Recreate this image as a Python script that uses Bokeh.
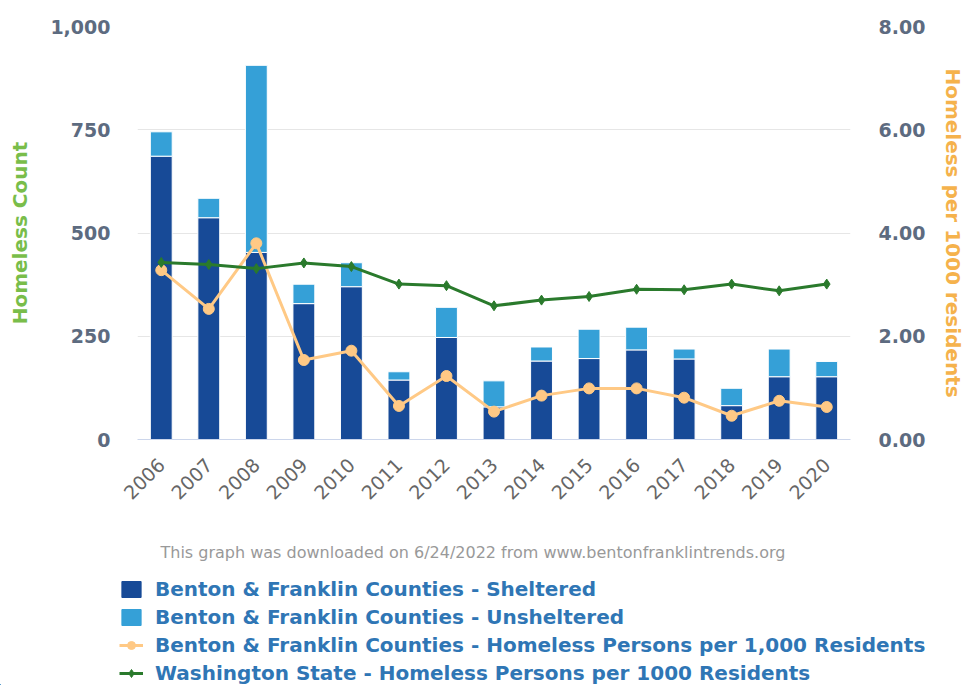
import math
from bokeh.plotting import figure
from bokeh.layouts import column
from bokeh.models import (FactorRange, Range1d, LinearAxis, Legend, LegendItem, Label,
                          NumeralTickFormatter, FixedTicker, ColumnDataSource)
from bokeh.embed import file_html
from bokeh.resources import INLINE

years = [str(y) for y in range(2006, 2021)]
sheltered = [686, 537, 453, 329, 370, 144, 247, 79, 190, 196, 217, 195, 82, 152, 152]
unsheltered = [59, 47, 453, 47, 58, 20, 73, 63, 34, 71, 55, 24, 42, 67, 37]
bf_rate = [3.28, 2.53, 3.80, 1.54, 1.72, 0.65, 1.23, 0.54, 0.85, 0.99, 0.99, 0.81, 0.46, 0.75, 0.63]
wa_rate = [3.43, 3.39, 3.31, 3.42, 3.35, 3.01, 2.98, 2.59, 2.70, 2.77, 2.91, 2.90, 3.01, 2.88, 3.01]

legend_labels = [
    "Benton & Franklin Counties - Sheltered",
    "Benton & Franklin Counties - Unsheltered",
    "Benton & Franklin Counties - Homeless Persons per 1,000 Residents",
    "Washington State - Homeless Persons per 1000 Residents",
]
footnote = "This graph was downloaded on 6/24/2022 from www.bentonfranklintrends.org"

C_SH = "#174a97"
C_UN = "#35a0d7"
C_OR = "#ffc985"
C_GR = "#2a7a2c"
TICK_C = "#5d6b80"
W = 949

source = ColumnDataSource(dict(years=years, sheltered=sheltered, unsheltered=unsheltered,
                               bf=bf_rate, wa=wa_rate))

p = figure(x_range=FactorRange(*years, range_padding=0), y_range=Range1d(0, 1000),
           frame_width=713, frame_height=413,
           min_border_left=137, min_border_right=105, min_border_top=26, min_border_bottom=100,
           output_backend="svg", toolbar_location=None)
p.frame_align = False
p.extra_y_ranges = {"rate": Range1d(0, 8)}

bars = p.vbar_stack(["sheltered", "unsheltered"], x="years", width=0.46, color=[C_SH, C_UN],
                    line_color="white", line_width=1, source=source)

p.line("years", "bf", y_range_name="rate", color=C_OR, line_width=3, source=source)
p.scatter("years", "bf", y_range_name="rate", color=C_OR, size=11, marker="circle", source=source)
p.line("years", "wa", y_range_name="rate", color=C_GR, line_width=3, source=source)
p.scatter("years", "wa", y_range_name="rate", color=C_GR, size=10, marker="diamond", source=source)

# left axis
ly = p.yaxis[0]
ly.ticker = FixedTicker(ticks=[0, 250, 500, 750, 1000])
ly.formatter = NumeralTickFormatter(format="0,0")
ly.axis_label = "Homeless Count"
ly.axis_label_text_color = "#79bd4a"
ly.axis_label_text_font = "DejaVu Sans"
ly.axis_label_text_font_style = "bold"
ly.axis_label_text_font_size = "20px"
ly.axis_label_standoff = 15
ly.major_label_text_color = TICK_C
ly.major_label_text_font = "DejaVu Sans"
ly.major_label_text_font_style = "bold"
ly.major_label_text_font_size = "19px"
ly.major_label_standoff = 27
ly.major_tick_out = 0
ly.major_tick_in = 0
ly.axis_line_color = None
ly.major_tick_line_color = None
ly.minor_tick_line_color = None

# right axis
ry = LinearAxis(y_range_name="rate", ticker=FixedTicker(ticks=[0, 2, 4, 6, 8]),
                formatter=NumeralTickFormatter(format="0.00"),
                axis_label="Homeless per 1000 residents")
ry.axis_label_text_color = "#f5b24c"
ry.axis_label_text_font = "DejaVu Sans"
ry.axis_label_text_font_style = "bold"
ry.axis_label_text_font_size = "20px"
ry.axis_label_standoff = 13
ry.major_label_text_color = TICK_C
ry.major_label_text_font = "DejaVu Sans"
ry.major_label_text_font_style = "bold"
ry.major_label_text_font_size = "19px"
ry.major_label_standoff = 28
ry.major_tick_out = 0
ry.major_tick_in = 0
ry.axis_line_color = None
ry.major_tick_line_color = None
ry.minor_tick_line_color = None
p.add_layout(ry, "right")

p.xaxis.major_label_orientation = math.pi / 4
p.xaxis.major_label_text_color = "#666666"
p.xaxis.major_label_text_font = "DejaVu Sans"
p.xaxis.major_label_text_font_size = "19px"
p.xaxis.major_label_standoff = 22
p.xaxis.major_tick_out = 0
p.xaxis.axis_line_color = "#ccd6eb"
p.xaxis.major_tick_line_color = None
p.xaxis.minor_tick_line_color = None

p.xgrid.grid_line_color = None
p.ygrid.grid_line_color = "#e6e6e6"
p.ygrid.ticker = FixedTicker(ticks=[0, 250, 500, 750, 1000])
p.outline_line_color = None

# lower panel: footnote + legend (legend keys styled like the series above)
H2 = 146
q = figure(width=W, height=H2, x_range=Range1d(0, W), y_range=Range1d(0, H2),
           min_border=0, x_axis_type=None, y_axis_type=None,
           output_backend="svg", toolbar_location=None)
q.frame_align = False
q.grid.visible = False
q.outline_line_color = None

off = [-10 * W]  # legend keys only; kept outside the visible range
k1 = q.vbar(x=off, top=[1], width=1, color=C_SH)
k2 = q.vbar(x=off, top=[1], width=1, color=C_UN)
k3l = q.line(x=off, y=[1], color=C_OR, line_width=3)
k3m = q.scatter(x=off, y=[1], color=C_OR, size=10, marker="circle")
k4l = q.line(x=off, y=[1], color=C_GR, line_width=3)
k4m = q.scatter(x=off, y=[1], color=C_GR, size=9, marker="diamond")

note = Label(x=160, y=H2 - 12.7, text=footnote, text_align="left", text_baseline="middle",
             text_color="#999999", text_font="DejaVu Sans", text_font_size="16px")
q.add_layout(note)

legend = Legend(items=[
    LegendItem(label=legend_labels[0], renderers=[k1]),
    LegendItem(label=legend_labels[1], renderers=[k2]),
    LegendItem(label=legend_labels[2], renderers=[k3l, k3m]),
    LegendItem(label=legend_labels[3], renderers=[k4l, k4m]),
], location=(119, 0), orientation="vertical", label_text_color="#2f76b5",
   label_text_font="DejaVu Sans", label_text_font_style="bold", label_text_font_size="20px",
   glyph_width=24, glyph_height=20, label_height=20, label_standoff=12, spacing=4,
   padding=0, margin=0, border_line_color=None, background_fill_alpha=0)
q.add_layout(legend, "center")

layout = column(p, q, spacing=0)
open("out.html", "w").write(file_html(layout, INLINE))
